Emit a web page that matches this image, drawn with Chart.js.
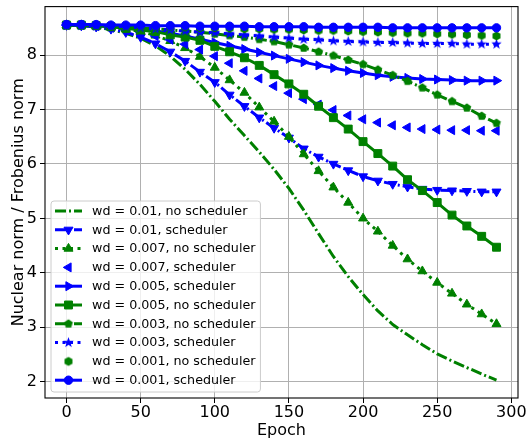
<!DOCTYPE html>
<html>
<head>
<meta charset="utf-8">
<script src="https://cdn.jsdelivr.net/npm/chart.js@4.4.1/dist/chart.umd.min.js"></script>
<style>
  html, body { margin: 0; padding: 0; background: #fff; }
  canvas { display: block; }
</style>
</head>
<body>
<canvas id="chart" width="529" height="443"></canvas>
<script>
// data, one value every 10 epochs
const epochs = [0, 10, 20, 30, 40, 50, 60, 70, 80, 90, 100, 110, 120, 130, 140,
                150, 160, 170, 180, 190, 200, 210, 220, 230, 240, 250, 260, 270, 280, 290];
const xTicks = [0, 50, 100, 150, 200, 250, 300];
const yTicks = [2, 3, 4, 5, 6, 7, 8];

const wd010NoSched = [8.55, 8.54, 8.51, 8.47, 8.40, 8.31, 8.17, 7.98, 7.74, 7.46, 7.15, 6.82, 6.52, 6.22, 5.90,
                      5.55, 5.15, 4.72, 4.30, 3.93, 3.60, 3.30, 3.05, 2.86, 2.68, 2.51, 2.38, 2.26, 2.14, 2.03];
const wd010Sched   = [8.55, 8.54, 8.52, 8.48, 8.42, 8.33, 8.21, 8.06, 7.89, 7.69, 7.50, 7.27, 7.06, 6.85, 6.66,
                      6.48, 6.28, 6.13, 6.00, 5.88, 5.77, 5.69, 5.63, 5.58, 5.54, 5.52, 5.51, 5.50, 5.49, 5.49];
const wd007NoSched = [8.55, 8.55, 8.53, 8.51, 8.48, 8.43, 8.36, 8.26, 8.13, 7.97, 7.77, 7.54, 7.31, 7.04, 6.78,
                      6.50, 6.18, 5.87, 5.57, 5.29, 5.00, 4.76, 4.50, 4.25, 4.03, 3.82, 3.62, 3.42, 3.24, 3.06];
const wd007Sched   = [8.55, 8.55, 8.53, 8.50, 8.46, 8.41, 8.35, 8.28, 8.20, 8.10, 7.98, 7.85, 7.71, 7.57, 7.43,
                      7.30, 7.19, 7.09, 6.99, 6.89, 6.82, 6.76, 6.71, 6.67, 6.64, 6.63, 6.62, 6.62, 6.61, 6.61];
const wd005Sched   = [8.55, 8.55, 8.54, 8.52, 8.50, 8.47, 8.44, 8.40, 8.35, 8.29, 8.23, 8.17, 8.11, 8.05, 7.99,
                      7.93, 7.87, 7.81, 7.76, 7.71, 7.67, 7.63, 7.60, 7.58, 7.56, 7.55, 7.54, 7.53, 7.53, 7.53];
const wd005NoSched = [8.55, 8.55, 8.54, 8.52, 8.49, 8.46, 8.43, 8.37, 8.33, 8.27, 8.16, 8.06, 7.95, 7.81, 7.64,
                      7.47, 7.28, 7.06, 6.85, 6.64, 6.41, 6.19, 5.96, 5.71, 5.51, 5.29, 5.06, 4.86, 4.67, 4.47];
const wd003NoSched = [8.55, 8.55, 8.54, 8.53, 8.51, 8.50, 8.48, 8.46, 8.44, 8.42, 8.39, 8.36, 8.33, 8.29, 8.25,
                      8.19, 8.13, 8.06, 7.99, 7.91, 7.83, 7.73, 7.63, 7.52, 7.40, 7.27, 7.15, 7.03, 6.88, 6.75];
const wd003Sched   = [8.55, 8.55, 8.54, 8.53, 8.52, 8.50, 8.48, 8.46, 8.44, 8.42, 8.41, 8.39, 8.37, 8.35, 8.33,
                      8.31, 8.29, 8.28, 8.26, 8.25, 8.24, 8.23, 8.23, 8.22, 8.21, 8.21, 8.21, 8.20, 8.20, 8.20];
const wd001NoSched = [8.55, 8.55, 8.55, 8.54, 8.54, 8.53, 8.52, 8.52, 8.51, 8.50, 8.50, 8.49, 8.48, 8.48, 8.47,
                      8.47, 8.46, 8.45, 8.45, 8.44, 8.43, 8.42, 8.41, 8.40, 8.40, 8.39, 8.38, 8.37, 8.36, 8.35];
const wd001Sched   = [8.56, 8.56, 8.56, 8.55, 8.55, 8.55, 8.54, 8.54, 8.54, 8.53, 8.53, 8.53, 8.53, 8.52, 8.52,
                      8.52, 8.52, 8.51, 8.51, 8.51, 8.51, 8.51, 8.50, 8.50, 8.50, 8.50, 8.50, 8.50, 8.50, 8.50];

const GREEN = '#008000';
const BLUE = '#0000ff';
const DASHDOT = [11, 3, 2, 3];
const DOTTED = [3, 4.5];

// little filled glyphs for the matplotlib markers chart.js does not have
function glyph(shape, color, r) {
    const c = document.createElement('canvas');
    const s = Math.ceil(r * 2 + 2);
    c.width = c.height = s;
    const g = c.getContext('2d');
    g.translate(s / 2, s / 2);
    g.beginPath();
    if (shape === 'star') {
        for (let k = 0; k < 10; k++) {
            const a = -Math.PI / 2 + k * Math.PI / 5;
            const rr = k % 2 ? r * 0.42 : r;
            g.lineTo(Math.cos(a) * rr, Math.sin(a) * rr);
        }
    } else {
        const n = shape === 'pentagon' ? 5 : 6;
        for (let k = 0; k < n; k++) {
            const a = -Math.PI / 2 + k * 2 * Math.PI / n;
            g.lineTo(Math.cos(a) * r, Math.sin(a) * r);
        }
    }
    g.closePath();
    g.fillStyle = color;
    g.fill();
    return c;
}

const series = [
    { label: 'wd = 0.01, no scheduler',  data: wd010NoSched, color: GREEN, dash: DASHDOT, style: false },
    { label: 'wd = 0.01, scheduler',     data: wd010Sched,   color: BLUE,  dash: DASHDOT, style: 'triangle', rot: 180, r: 5.2 },
    { label: 'wd = 0.007, no scheduler', data: wd007NoSched, color: GREEN, dash: DOTTED,  style: 'triangle', rot: 0, r: 5.2 },
    { label: 'wd = 0.007, scheduler',    data: wd007Sched,   color: BLUE,  line: false,   style: 'triangle', rot: -90, r: 5.2 },
    { label: 'wd = 0.005, scheduler',    data: wd005Sched,   color: BLUE,  dash: [],      style: 'triangle', rot: 90, r: 5.2 },
    { label: 'wd = 0.005, no scheduler', data: wd005NoSched, color: GREEN, dash: [],      style: 'rect', rot: 0, r: 5.6 },
    { label: 'wd = 0.003, no scheduler', data: wd003NoSched, color: GREEN, dash: DASHDOT, style: glyph('pentagon', GREEN, 4.6), r: 4.6 },
    { label: 'wd = 0.003, scheduler',    data: wd003Sched,   color: BLUE,  dash: DOTTED,  style: glyph('star', BLUE, 5.5), r: 5.5 },
    { label: 'wd = 0.001, no scheduler', data: wd001NoSched, color: GREEN, line: false,   style: glyph('hexagon', GREEN, 4.6), r: 4.6 },
    { label: 'wd = 0.001, scheduler',    data: wd001Sched,   color: BLUE,  dash: [],      style: 'circle', rot: 0, r: 4.2 }
];

const datasets = series.map((s, i) => ({
    label: s.label,
    data: epochs.map((e, j) => ({ x: e, y: s.data[j] })),
    borderColor: s.color,
    backgroundColor: s.color,
    borderWidth: 3,
    borderDash: s.dash || [],
    borderJoinStyle: 'round',
    showLine: s.line !== false,
    tension: 0,
    pointStyle: s.style,
    pointRotation: s.rot || 0,
    pointRadius: s.style ? s.r : 0,
    pointBorderWidth: 1,
    pointHoverRadius: s.style ? s.r : 0,
    order: series.length - i
}));

// full box around the axes like matplotlib spines
const frame = {
    id: 'frame',
    afterDatasetsDraw(chart) {
        const { left, top, right, bottom } = chart.chartArea;
        const ctx = chart.ctx;
        ctx.save();
        ctx.strokeStyle = '#000';
        ctx.lineWidth = 1.1;
        ctx.strokeRect(left, top, right - left, bottom - top);
        ctx.restore();
    }
};

// legend in the lower left corner of the axes
const innerLegend = {
    id: 'innerLegend',
    afterDraw(chart) {
        const ctx = chart.ctx;
        const area = chart.chartArea;
        const rowH = 18.8;
        const font = '12.7px "DejaVu Sans", sans-serif';
        ctx.save();
        ctx.font = font;
        let maxW = 0;
        chart.data.datasets.forEach(ds => { maxW = Math.max(maxW, ctx.measureText(ds.label).width); });
        const w = 4 + 27 + 10 + maxW + 5;
        const h = rowH * chart.data.datasets.length + 3;
        const x0 = area.left + 6;
        const y0 = area.bottom - 6 - h;
        ctx.beginPath();
        ctx.roundRect(x0, y0, w, h, 3);
        ctx.fillStyle = 'rgba(255,255,255,0.8)';
        ctx.fill();
        ctx.strokeStyle = '#cccccc';
        ctx.lineWidth = 1;
        ctx.stroke();
        chart.data.datasets.forEach((ds, i) => {
            const cy = y0 + 10 + i * rowH;
            const lx = x0 + 4;
            if (ds.showLine) {
                ctx.beginPath();
                ctx.setLineDash(ds.borderDash);
                ctx.lineWidth = ds.borderWidth;
                ctx.strokeStyle = ds.borderColor;
                ctx.moveTo(lx, cy);
                ctx.lineTo(lx + 27, cy);
                ctx.stroke();
                ctx.setLineDash([]);
            }
            if (ds.pointStyle) {
                ctx.fillStyle = ds.backgroundColor;
                ctx.strokeStyle = ds.borderColor;
                ctx.lineWidth = ds.pointBorderWidth;
                Chart.helpers.drawPoint(ctx, {
                    pointStyle: ds.pointStyle,
                    rotation: ds.pointRotation,
                    radius: ds.pointRadius,
                    borderWidth: ds.pointBorderWidth
                }, lx + 13.5, cy);
            }
            ctx.fillStyle = '#000';
            ctx.font = font;
            ctx.textBaseline = 'middle';
            ctx.textAlign = 'left';
            ctx.fillText(ds.label, lx + 37, cy + 0.5);
        });
        ctx.restore();
    }
};

Chart.defaults.font.family = '"DejaVu Sans", sans-serif';
Chart.defaults.color = '#000';

// no auto padding for half tick labels, the box edges are fixed by layout
function noPad(scale) {
    scale.paddingTop = 0;
    scale.paddingBottom = 0;
    scale.paddingLeft = 0;
    scale.paddingRight = 0;
}

new Chart(document.getElementById('chart'), {
    type: 'line',
    data: { datasets: datasets },
    plugins: [frame, innerLegend],
    options: {
        responsive: false,
        animation: false,
        layout: { padding: { top: 5, right: 11, left: 0, bottom: 0 } },
        plugins: {
            legend: { display: false },
            tooltip: { enabled: false }
        },
        scales: {
            x: {
                type: 'linear',
                min: -14.5,
                max: 304.5,
                afterBuildTicks: scale => { scale.ticks = xTicks.map(v => ({ value: v })); },
                afterFit: scale => { scale.height = 45; noPad(scale); },
                grid: { color: '#b0b0b0', lineWidth: 1, tickColor: '#000', tickLength: 5 },
                border: { display: false },
                ticks: { font: { size: 16 }, padding: 0, maxRotation: 0 },
                title: { display: true, text: 'Epoch', font: { size: 16 }, padding: { top: 0, bottom: 3 } }
            },
            y: {
                type: 'linear',
                min: 1.70,
                max: 8.89,
                afterBuildTicks: scale => { scale.ticks = yTicks.map(v => ({ value: v })); },
                afterFit: scale => { scale.width = 45; noPad(scale); },
                grid: { color: '#b0b0b0', lineWidth: 1, tickColor: '#000', tickLength: 5 },
                border: { display: false },
                ticks: { font: { size: 16 }, padding: 3 },
                title: { display: true, text: 'Nuclear norm / Frobenius norm', font: { size: 16 }, padding: { top: 9, bottom: 0 } }
            }
        }
    }
});
</script>
</body>
</html>
